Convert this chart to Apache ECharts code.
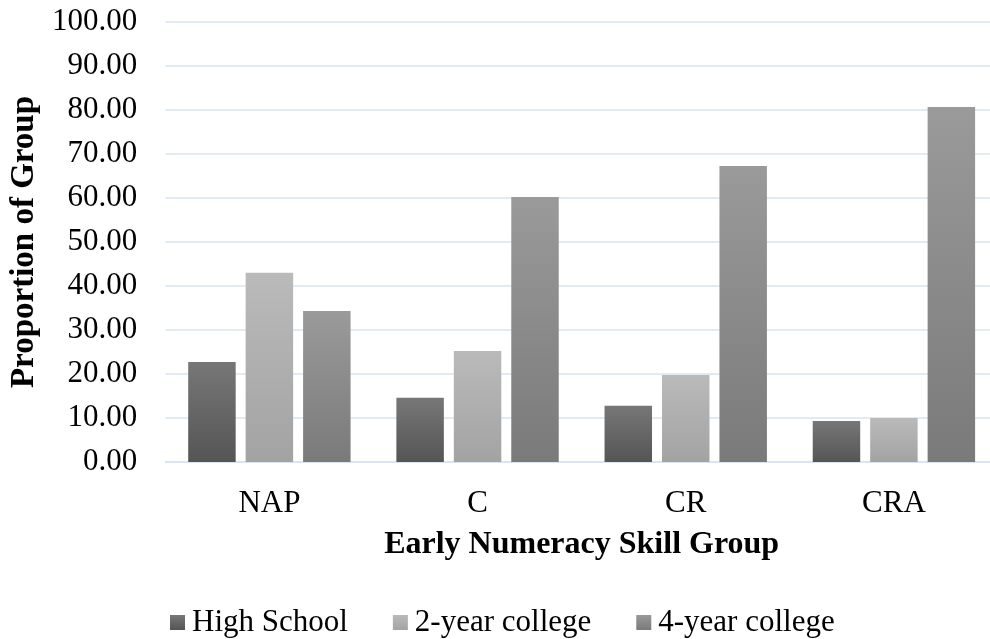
<!DOCTYPE html>
<html>
<head>
<meta charset="utf-8">
<script src="https://cdn.jsdelivr.net/npm/echarts@6/dist/echarts.min.js"></script>
<style>
html,body{margin:0;padding:0;background:#fff;overflow:hidden;width:990px;height:639px;}
#chart{width:998px;height:639px;}
</style>
</head>
<body>
<div id="chart"></div>
<script>
const categories = ['NAP', 'C', 'CR', 'CRA'];
const seriesNames = ['High School', '2-year college', '4-year college'];
const highSchool = [22.7, 14.6, 12.8, 9.3];
const twoYear = [43.0, 25.2, 19.8, 10.0];
const fourYear = [34.3, 60.2, 67.3, 80.7];
const yTicks = [0, 10, 20, 30, 40, 50, 60, 70, 80, 90, 100];

const FONT = '"Liberation Serif", "Times New Roman", serif';
function grad(top, bottom) {
  return new echarts.graphic.LinearGradient(0, 0, 0, 1, [
    { offset: 0, color: top },
    { offset: 1, color: bottom }
  ]);
}
const colors = [grad('#777777', '#555555'), grad('#bababa', '#a3a3a3'), grad('#9a9a9a', '#7a7a7a')];
const values = [highSchool, twoYear, fourYear];

const chart = echarts.init(document.getElementById('chart'), null, { renderer: 'canvas' });
chart.setOption({
  animation: false,
  backgroundColor: '#ffffff',
  textStyle: { fontFamily: FONT },
  grid: { left: 165.3, right: 0, top: 22, height: 440, containLabel: false },
  legend: {
    data: seriesNames,
    icon: 'rect',
    left: 165,
    top: 602,
    itemWidth: 15,
    itemHeight: 15,
    itemGap: 45,
    textStyle: { fontFamily: FONT, fontSize: 31, color: '#000', padding: [0, 0, 0, 2] }
  },
  xAxis: {
    type: 'category',
    data: categories,
    name: 'Early Numeracy Skill Group',
    nameLocation: 'middle',
    nameGap: 67,
    nameTextStyle: { fontFamily: FONT, fontSize: 32, fontWeight: 'bold', color: '#000' },
    axisLine: { show: true, lineStyle: { color: '#d9e3f1', width: 1.5 } },
    axisTick: { show: false },
    axisLabel: { margin: 26, fontFamily: FONT, fontSize: 31, color: '#000' }
  },
  yAxis: {
    type: 'value',
    min: yTicks[0],
    max: yTicks[yTicks.length - 1],
    interval: yTicks[1] - yTicks[0],
    name: 'Proportion of Group',
    nameLocation: 'middle',
    nameRotate: 90,
    nameGap: 124,
    nameTextStyle: { fontFamily: FONT, fontSize: 33, fontWeight: 'bold', color: '#000' },
    axisLine: { show: false },
    axisTick: { show: false },
    splitLine: { show: true, lineStyle: { color: '#d9e3f1', width: 1.5 } },
    axisLabel: {
      margin: 28, fontFamily: FONT, fontSize: 31, color: '#000',
      formatter: v => v.toFixed(2)
    }
  },
  series: seriesNames.map((n, i) => ({
    name: n,
    type: 'bar',
    data: values[i],
    barGap: '21%',
    barCategoryGap: '22%',
    itemStyle: { color: colors[i] }
  }))
});
</script>
</body>
</html>
